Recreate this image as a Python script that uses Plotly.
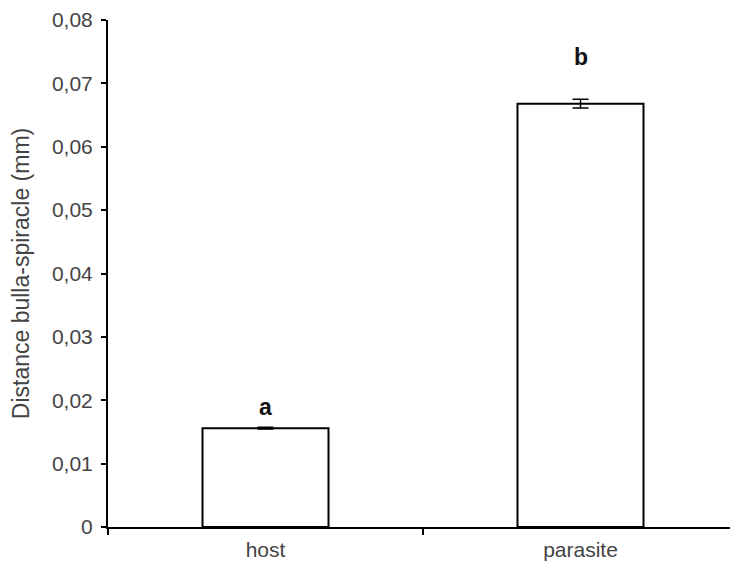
import plotly.graph_objects as go

categories = ["host", "parasite"]
means = [0.0156, 0.0668]
errors = [0.00015, 0.0007]
letters = ["a", "b"]
ytick_vals = [0, 0.01, 0.02, 0.03, 0.04, 0.05, 0.06, 0.07, 0.08]
ytick_text = ["0", "0,01", "0,02", "0,03", "0,04", "0,05", "0,06", "0,07", "0,08"]

letter_shift = [5, 27]

fig = go.Figure()
fig.add_trace(go.Bar(
    x=categories, y=means, width=0.4,
    marker=dict(color="white", line=dict(color="black", width=2)),
    error_y=dict(type="data", array=errors, color="black", thickness=1.5, width=8),
))

for c, m, e, l, s in zip(categories, means, errors, letters, letter_shift):
    fig.add_annotation(x=c, y=m + e, text="<b>" + l + "</b>", showarrow=False,
                       yanchor="bottom", yshift=s,
                       font=dict(family="Liberation Sans", size=23, color="#111"))

fig.update_layout(
    width=730, height=570,
    margin=dict(l=100, r=0, t=6, b=51),
    plot_bgcolor="white", paper_bgcolor="white",
    showlegend=False,
    font=dict(family="Liberation Sans", size=21, color="#444"),
    xaxis=dict(range=[-0.5, 1.5], showline=True, linecolor="black", linewidth=2,
               ticks="outside", tickson="boundaries", ticklen=6, tickcolor="black",
               tickwidth=1.5, showgrid=False, ticklabelstandoff=3,
               tickfont=dict(size=21, color="#444")),
    yaxis=dict(range=[0, 0.08], showline=True, linecolor="black", linewidth=2,
               ticks="outside", ticklen=5, tickcolor="black", tickwidth=1.5,
               tickvals=ytick_vals, ticktext=ytick_text, showgrid=False, zeroline=False,
               ticklabeloverflow="allow", ticklabelstandoff=4,
               tickfont=dict(size=21, color="#444"),
               title=dict(text="Distance bulla-spiracle (mm)", font=dict(size=23, color="#444"), standoff=18)),
)

fig.write_html("out.html")
